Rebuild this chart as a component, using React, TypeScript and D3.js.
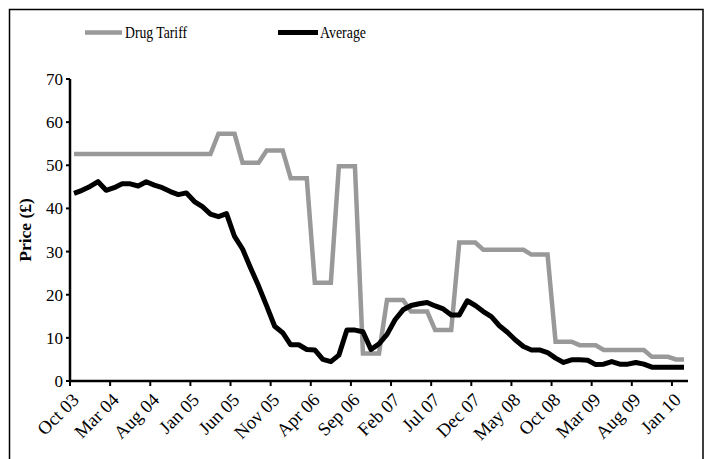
import * as d3 from "d3";

// monthly categories, Oct 2003 .. Feb 2010
const months = d3.timeMonth.range(new Date(2003, 9, 1), new Date(2010, 2, 1));
const monthFmt = d3.timeFormat("%b %y");

const tickLabels = [
  "Oct 03", "Mar 04", "Aug 04", "Jan 05", "Jun 05", "Nov 05", "Apr 06", "Sep 06",
  "Feb 07", "Jul 07", "Dec 07", "May 08", "Oct 08", "Mar 09", "Aug 09", "Jan 10",
];
const yTicks = [0, 10, 20, 30, 40, 50, 60, 70];

const drugTariff = [
  52.6, 52.6, 52.6, 52.6, 52.6, 52.6, 52.6, 52.6, 52.6, 52.6,
  52.6, 52.6, 52.6, 52.6, 52.6, 52.6, 52.6, 52.6, 57.3, 57.3,
  57.3, 50.6, 50.6, 50.6, 53.4, 53.4, 53.4, 47.0, 47.0, 47.0,
  22.8, 22.8, 22.8, 49.8, 49.8, 49.8, 6.4, 6.4, 6.4, 18.8,
  18.8, 18.8, 16.1, 16.1, 16.1, 11.8, 11.8, 11.8, 32.1, 32.1,
  32.1, 30.4, 30.4, 30.4, 30.4, 30.4, 30.4, 29.3, 29.3, 29.3,
  9.1, 9.1, 9.1, 8.3, 8.3, 8.3, 7.2, 7.2, 7.2, 7.2,
  7.2, 7.2, 5.6, 5.6, 5.6, 5.0, 5.0,
];

const average = [
  43.5, 44.2, 45.1, 46.2, 44.2, 44.8, 45.7, 45.7, 45.2, 46.2,
  45.4, 44.8, 43.9, 43.2, 43.6, 41.6, 40.4, 38.7, 38.1, 38.8,
  33.5, 30.6, 26.2, 22.0, 17.4, 12.7, 11.2, 8.4, 8.4, 7.3,
  7.2, 5.0, 4.5, 6.0, 11.8, 11.8, 11.4, 7.3, 8.6, 10.8,
  14.2, 16.5, 17.5, 17.9, 18.2, 17.4, 16.7, 15.3, 15.3, 18.6,
  17.5, 16.1, 14.9, 12.8, 11.3, 9.5, 8.0, 7.2, 7.2, 6.6,
  5.3, 4.3, 4.9, 4.9, 4.8, 3.8, 3.9, 4.5, 3.9, 3.9,
  4.3, 3.9, 3.2, 3.2, 3.2, 3.2, 3.2,
];

const width = 710;
const height = 459;
const marginLeft = 70;
const marginRight = 22;
const marginTop = 79;
const plotBottom = 381;

const font = "'Liberation Serif', 'Times New Roman', serif";

export default function App() {
  const x = d3
    .scaleBand<number>()
    .domain(months.map((_, i) => i))
    .range([marginLeft, width - marginRight])
    .padding(0);
  const y = d3.scaleLinear([0, 70], [plotBottom, marginTop]);
  const cx = (i: number) => (x(i) as number) + x.bandwidth() / 2;

  const line = d3
    .line<number>()
    .x((_, i) => cx(i))
    .y((d) => y(d));

  const tickIdx = months
    .map((m, i) => ({ i, label: monthFmt(m) }))
    .filter((d) => tickLabels.includes(d.label));

  return (
    <svg
      width={width}
      height={height}
      style={{ position: "absolute", left: 0, top: 0, background: "#fff" }}
      fontFamily={font}
    >
      <rect x={9.5} y={9.5} width={693.5} height={470} fill="none" stroke="#000" strokeWidth={1.5} />

      {/* legend */}
      <line x1={85} x2={122} y1={32.5} y2={32.5} stroke="#999" strokeWidth={4.5} />
      <text x={125} y={38} fontSize={17} textLength={62} lengthAdjust="spacingAndGlyphs">
        Drug Tariff
      </text>
      <line x1={278} x2={318} y1={32.5} y2={32.5} stroke="#000" strokeWidth={5} />
      <text x={320} y={38} fontSize={17} textLength={46} lengthAdjust="spacingAndGlyphs">
        Average
      </text>

      {/* y axis */}
      <line x1={marginLeft} x2={marginLeft} y1={y(70)} y2={plotBottom} stroke="#000" strokeWidth={2.5} />
      {yTicks.map((t) => (
        <g key={t}>
          <line x1={marginLeft - 4} x2={marginLeft} y1={y(t)} y2={y(t)} stroke="#000" strokeWidth={2} />
          <text x={63} y={y(t)} dy="0.35em" textAnchor="end" fontSize={17}>
            {t}
          </text>
        </g>
      ))}
      <text
        transform={`translate(31,${(y(70) + plotBottom) / 2}) rotate(-90)`}
        textAnchor="middle"
        fontSize={17.5}
        fontWeight="bold"
      >
        Price (£)
      </text>

      {/* x axis */}
      <line x1={marginLeft} x2={width - marginRight} y1={plotBottom} y2={plotBottom} stroke="#000" strokeWidth={2.5} />
      {tickIdx.map((d) => {
        const tx = x(d.i) as number;
        return (
          <g key={d.i}>
            <line x1={tx} x2={tx} y1={plotBottom} y2={plotBottom + 5} stroke="#000" strokeWidth={2} />
            <text
              transform={`translate(${tx + 10},${plotBottom + 20}) rotate(-45)`}
              textAnchor="end"
              fontSize={18.5}
            >
              {d.label}
            </text>
          </g>
        );
      })}

      <path d={line(drugTariff) as string} fill="none" stroke="#999" strokeWidth={4.5} strokeLinejoin="miter" />
      <path d={line(average) as string} fill="none" stroke="#000" strokeWidth={5} strokeLinejoin="round" />
    </svg>
  );
}
